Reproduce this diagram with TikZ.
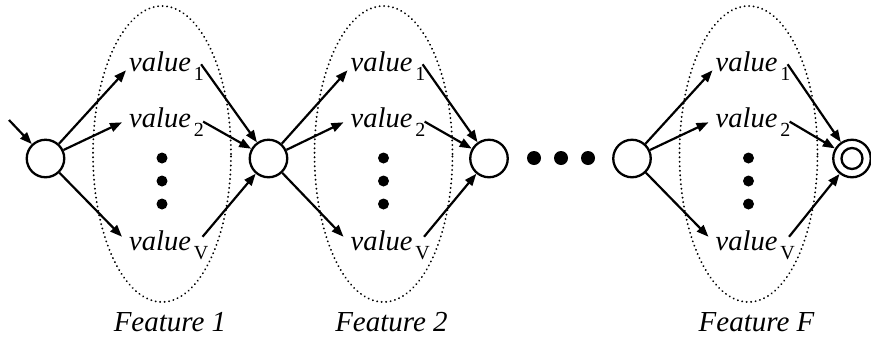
\documentclass[tikz,border=0pt]{standalone}
\usepackage{fontspec}
\setmainfont{Liberation Serif}
\usetikzlibrary{arrows.meta}
\newcommand\valsub[1]{\hspace{3pt}\raisebox{-9pt}{\fontsize{20}{20}\selectfont\upshape #1}}
\begin{document}
\begin{tikzpicture}[x=1pt,y=-1pt,
  state/.style={circle,draw,line width=2.3pt,minimum size=37.5pt,inner sep=0pt},
  val/.style={anchor=base west,inner sep=0pt,font=\fontsize{28.5}{28.5}\selectfont\itshape},
  arr/.style={line width=2.2pt,-{Triangle[length=12pt,width=9pt]}},
  grp/.style={draw,dash pattern=on 0.1pt off 4.4pt,line width=2pt,line cap=round},
  bigdot/.style={circle,fill,inner sep=0pt,minimum size=14pt},
  smalldot/.style={circle,fill,inner sep=0pt,minimum size=11pt},
  lab/.style={anchor=base,inner sep=0pt,font=\fontsize{29}{29}\selectfont\itshape}]
\useasboundingbox (0,0) rectangle (871,341);
% states
\node[state] (a1) at (45.5,158.5) {};
\node[state] (a2) at (268.5,158.5) {};
\node[state] (a3) at (489,158.5) {};
\node[state] (a4) at (632,158.5) {};
\node[state] (f) at (852,158.5) {};
\draw[line width=2.3pt] (f.center) circle (10.5pt);
\coordinate (start) at (9,120);
\draw[arr] (start) -- (a1);
% dots between
\node[bigdot] (d1) at (534,158) {};
\node[bigdot] (d2) at (561,158) {};
\node[bigdot] (d3) at (588,158) {};
% features
\foreach \i/\dx/\src/\dst/\lbl in {1/0/a1/a2/1, 2/221.5/a2/a3/2, 3/586.5/a4/f/F}{
  \draw[grp] (162+\dx,154) ellipse [x radius=69pt, y radius=148pt];
  \node[val] (v\i1) at (129+\dx,71) {value\valsub{1}};
  \node[val] (v\i2) at (129+\dx,127) {value\valsub{2}};
  \node[val] (v\i3) at (129+\dx,250) {value\valsub{V}};
  \node[smalldot] (p\i1) at (162+\dx,158) {};
  \node[smalldot] (p\i2) at (162+\dx,181) {};
  \node[smalldot] (p\i3) at (162+\dx,204) {};
  \node[lab] (l\i) at (170+\dx,331) {Feature \lbl};
  \draw[arr] (\src) -- ([shift={(-3,4.7)}]v\i1.west);
  \draw[arr] (\src) -- ([shift={(-7,0.7)}]v\i2.west);
  \draw[arr] (\src) -- ([shift={(-7,-8)}]v\i3.west);
  \draw[arr] ([shift={(-3,-1.3)}]v\i1.east) -- (\dst);
  \draw[arr] ([shift={(-1,0)}]v\i2.east) -- (\dst);
  \draw[arr] ([shift={(-6,-8)}]v\i3.east) -- (\dst);
}
\end{tikzpicture}
\end{document}
